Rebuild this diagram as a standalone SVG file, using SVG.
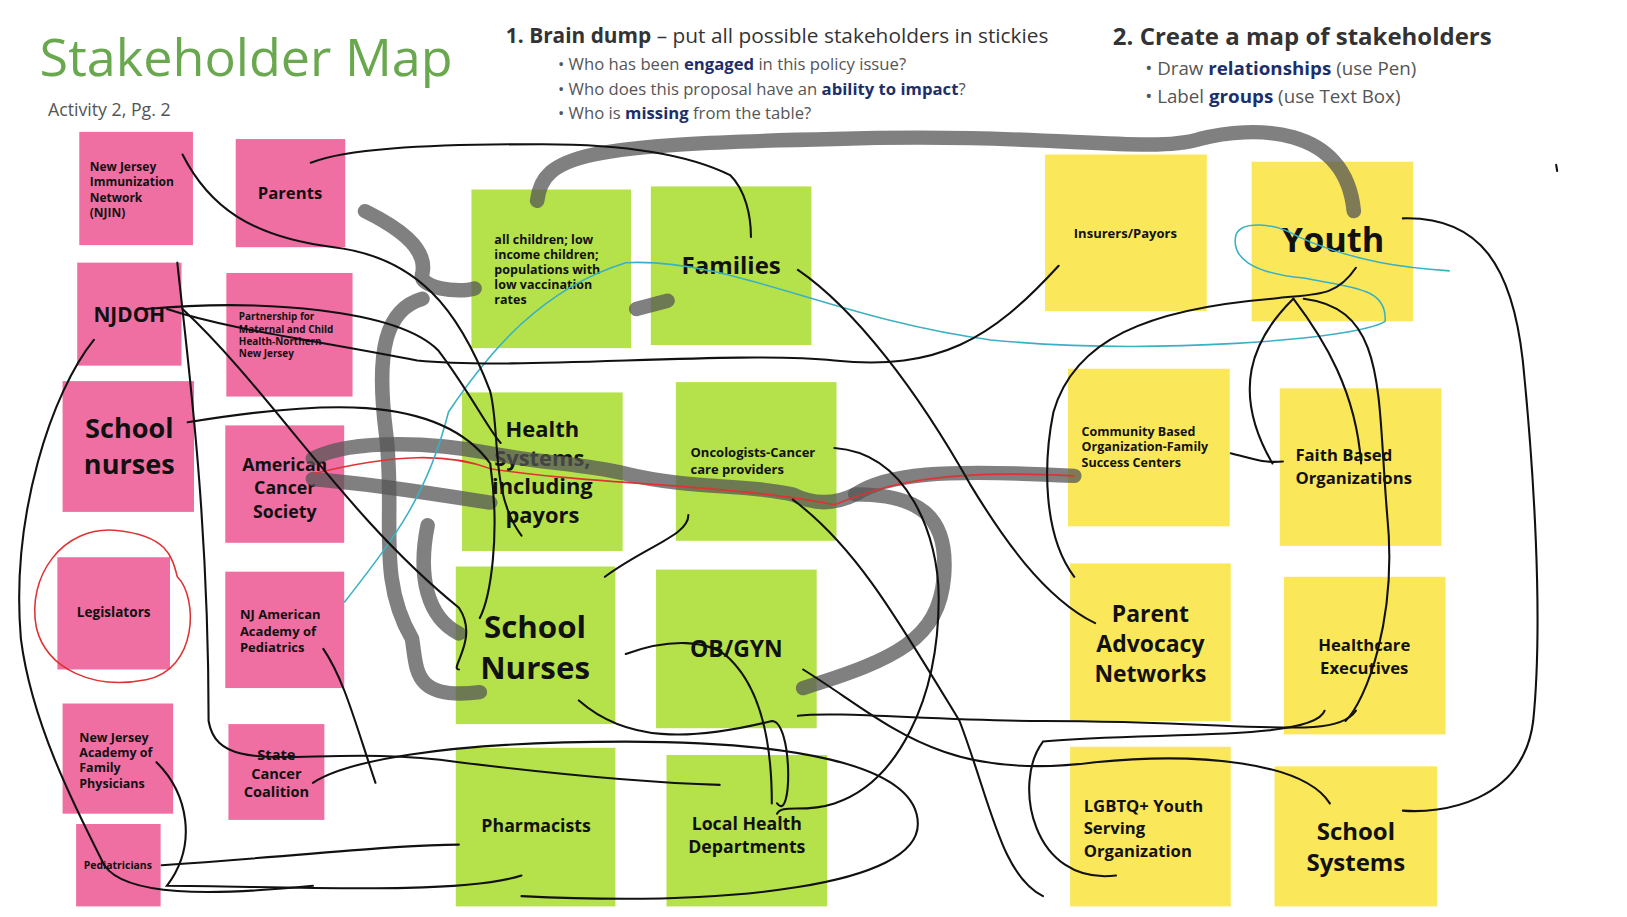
<svg xmlns="http://www.w3.org/2000/svg" width="1627" height="917" viewBox="0 0 1627 917">
<style>
.p{fill:#ef6fa3}.g{fill:#b5e24a}.y{fill:#fbe85a}
text{font-family:"Open Sans","Liberation Sans",sans-serif;font-weight:bold;fill:#111;text-anchor:middle}
.l{text-anchor:start}
.h{font-weight:normal;fill:#555;text-anchor:start}
.c{fill:none;stroke:#111;stroke-width:2;stroke-linecap:round}
.gr{fill:none;stroke:#555;stroke-opacity:.75;stroke-width:14;stroke-linecap:round;stroke-linejoin:round}
</style>
<rect width="1627" height="917" fill="#fff"/>
<g transform="scale(1.043,1.03)">
<g id="title">
<text x="38" y="74" class="l" style="font-weight:normal;fill:#6aa84f;font-size:50px">Stakeholder Map</text>
<text x="46" y="113" class="h" style="font-size:17px">Activity 2, Pg. 2</text>
<text x="485" y="42" class="h" style="font-size:20px;fill:#333"><tspan font-weight="bold">1.  Brain dump</tspan> – put all possible stakeholders in stickies</text>
<text x="535" y="68" class="h" style="font-size:16px">•  Who has been <tspan font-weight="bold" fill="#1c2f6b">engaged</tspan> in this policy issue?</text>
<text x="535" y="92" class="h" style="font-size:16px">•  Who does this proposal have an <tspan font-weight="bold" fill="#1c2f6b">ability to impact</tspan>?</text>
<text x="535" y="116" class="h" style="font-size:16px">•  Who is <tspan font-weight="bold" fill="#1c2f6b">missing</tspan> from the table?</text>
<text x="1067" y="44" class="h" style="font-size:23px;font-weight:bold;fill:#333">2.  Create a map of stakeholders</text>
<text x="1098" y="73" class="h" style="font-size:18px">•   Draw <tspan font-weight="bold" fill="#1c2f6b">relationships</tspan> (use Pen)</text>
<text x="1098" y="100" class="h" style="font-size:18px">•   Label <tspan font-weight="bold" fill="#1c2f6b">groups</tspan> (use Text Box)</text>
</g>
<g id="n1"><rect class="p" x="76" y="128" width="109" height="110"/><text class="l" x="86" y="166" font-size="11.5">New Jersey<tspan x="86" dy="15">Immunization</tspan><tspan x="86" dy="15">Network</tspan><tspan x="86" dy="15">(NJIN)</tspan></text></g>
<g id="n2"><rect class="p" x="226" y="135" width="105" height="105"/><text x="278" y="193" font-size="16">Parents</text></g>
<g id="n3"><rect class="p" x="74" y="255" width="100" height="100"/><text x="124" y="313" font-size="20">NJDOH</text></g>
<g id="n4"><rect class="p" x="217" y="265" width="121" height="120"/><text class="l" x="229" y="311" font-size="9.5">Partnership for<tspan x="229" dy="12">Maternal and Child</tspan><tspan x="229" dy="12">Health-Northern</tspan><tspan x="229" dy="12">New Jersey</tspan></text></g>
<g id="n5"><rect class="p" x="60" y="370" width="126" height="127"/><text x="124" y="425" font-size="26">School<tspan x="124" dy="35">nurses</tspan></text></g>
<g id="n6"><rect class="p" x="216" y="413" width="114" height="114"/><text x="273" y="457" font-size="17">American<tspan x="273" dy="23">Cancer</tspan><tspan x="273" dy="23">Society</tspan></text></g>
<g id="n7"><rect class="p" x="55" y="541" width="108" height="109"/><text x="109" y="599" font-size="13">Legislators</text></g>
<g id="n8"><rect class="p" x="216" y="555" width="114" height="113"/><text class="l" x="230" y="601" font-size="12.5">NJ American<tspan x="230" dy="16">Academy of</tspan><tspan x="230" dy="16">Pediatrics</tspan></text></g>
<g id="n9"><rect class="p" x="60" y="683" width="106" height="107"/><text class="l" x="76" y="720" font-size="12">New Jersey<tspan x="76" dy="15">Academy of</tspan><tspan x="76" dy="15">Family</tspan><tspan x="76" dy="15">Physicians</tspan></text></g>
<g id="n10"><rect class="p" x="219" y="703" width="92" height="93"/><text x="265" y="738" font-size="14">State<tspan x="265" dy="18">Cancer</tspan><tspan x="265" dy="18">Coalition</tspan></text></g>
<g id="n11"><rect class="p" x="73" y="800" width="81" height="80"/><text x="113" y="844" font-size="10">Pediatricians</text></g>
<g id="n12"><rect class="g" x="452" y="184" width="153" height="154"/><text class="l" x="474" y="237" font-size="12">all children; low<tspan x="474" dy="14.5">income children;</tspan><tspan x="474" dy="14.5">populations with</tspan><tspan x="474" dy="14.5">low vaccination</tspan><tspan x="474" dy="14.5">rates</tspan></text></g>
<g id="n13"><rect class="g" x="624" y="181" width="154" height="154"/><text x="701" y="266" font-size="23">Families</text></g>
<g id="n14"><rect class="g" x="443" y="381" width="154" height="154"/><text x="520" y="424" font-size="21">Health<tspan x="520" dy="28">Systems,</tspan><tspan x="520" dy="28">including</tspan><tspan x="520" dy="28">payors</tspan></text></g>
<g id="n15"><rect class="g" x="648" y="371" width="154" height="154"/><text class="l" x="662" y="444" font-size="12.5">Oncologists-Cancer<tspan x="662" dy="16">care providers</tspan></text></g>
<g id="n16"><rect class="g" x="437" y="550" width="153" height="153"/><text x="513" y="619" font-size="30">School<tspan x="513" dy="40">Nurses</tspan></text></g>
<g id="n17"><rect class="g" x="629" y="553" width="154" height="154"/><text x="706" y="638" font-size="22">OB/GYN</text></g>
<g id="n18"><rect class="g" x="437" y="726" width="153" height="154"/><text x="514" y="808" font-size="17">Pharmacists</text></g>
<g id="n19"><rect class="g" x="639" y="733" width="154" height="147"/><text x="716" y="806" font-size="17">Local Health<tspan x="716" dy="22">Departments</tspan></text></g>
<g id="n20"><rect class="y" x="1002" y="150" width="155" height="152"/><text x="1079" y="231" font-size="12.5" font-weight="normal">Insurers/Payors</text></g>
<g id="n21"><rect class="y" x="1200" y="157" width="155" height="155"/><text x="1278" y="245" font-size="33">Youth</text></g>
<g id="n22"><rect class="y" x="1024" y="358" width="155" height="153"/><text class="l" x="1037" y="423" font-size="12">Community Based<tspan x="1037" dy="15">Organization-Family</tspan><tspan x="1037" dy="15">Success Centers</tspan></text></g>
<g id="n23"><rect class="y" x="1227" y="377" width="155" height="153"/><text class="l" x="1242" y="448" font-size="16">Faith Based<tspan x="1242" dy="22">Organizations</tspan></text></g>
<g id="n24"><rect class="y" x="1026" y="547" width="154" height="153"/><text x="1103" y="604" font-size="22">Parent<tspan x="1103" dy="29">Advocacy</tspan><tspan x="1103" dy="29">Networks</tspan></text></g>
<g id="n25"><rect class="y" x="1231" y="560" width="155" height="153"/><text x="1308" y="632" font-size="16">Healthcare<tspan x="1308" dy="22">Executives</tspan></text></g>
<g id="n26"><rect class="y" x="1026" y="725" width="154" height="155"/><text class="l" x="1039" y="788" font-size="16">LGBTQ+ Youth<tspan x="1039" dy="22">Serving</tspan><tspan x="1039" dy="22">Organization</tspan></text></g>
<g id="n27"><rect class="y" x="1222" y="744" width="156" height="136"/><text x="1300" y="816" font-size="23">School<tspan x="1300" dy="30">Systems</tspan></text></g>
<g id="connectors">
<path class="gr" d="M515,195 C520,150 560,140 800,135 C1000,128 1100,150 1150,135 C1200,122 1290,120 1298,205"/>
<path class="gr" d="M350,205 C380,220 410,240 405,265 C400,280 440,285 455,280 M610,300 L640,292"/>
<path class="gr" d="M405,290 C370,300 360,340 370,420 C380,500 360,560 395,620 C400,650 395,680 460,672"/>
<path class="gr" d="M300,445 C340,425 420,430 470,440 C520,450 560,450 600,460 C660,475 720,470 760,480 C780,490 800,490 820,480 C850,460 900,455 1030,462"/>
<path class="gr" d="M300,465 C360,470 420,480 470,488 M820,480 C880,480 910,500 905,560 C900,620 860,640 770,668"/>
<path class="gr" d="M410,510 C400,560 410,600 440,615"/>
<path d="M300,460 C380,440 430,440 470,455 C560,470 700,470 800,490 C850,470 900,455 1030,462" fill="none" stroke="#d33" stroke-width="1.5"/>
<path d="M112,515 C60,510 25,560 35,610 C45,650 90,670 140,660 C190,650 190,580 170,560 C165,540 160,520 112,515" fill="none" stroke="#d33" stroke-width="1.5"/>
<path d="M330,585 C380,520 410,480 430,400 C470,340 520,280 600,255 C700,250 800,310 950,330 C1100,345 1300,330 1328,312 C1330,280 1300,280 1250,270 C1200,265 1180,250 1185,228 C1190,215 1220,215 1245,230 C1300,255 1350,260 1390,263" fill="none" stroke="#3ab0c4" stroke-width="1.5"/>
<path class="c" d="M298,158 C330,145 400,140 520,140 C600,140 660,150 700,170 C715,185 720,210 720,230"/>
<path class="c" d="M175,150 C200,200 240,230 320,240 C400,250 440,300 470,380 C480,420 470,480 500,520"/>
<path class="c" d="M160,300 C220,320 300,330 400,350 C500,360 700,340 800,350 C900,360 950,330 1015,258"/>
<path class="c" d="M140,300 C250,290 380,300 420,340 C450,380 470,420 480,430"/>
<path class="c" d="M180,410 C300,390 420,380 470,450 C480,520 470,580 460,600"/>
<path class="c" d="M175,300 C260,380 330,500 440,590 C460,620 430,650 440,650"/>
<path class="c" d="M90,330 C50,380 10,500 20,620 C30,700 70,780 100,840 C120,870 200,870 300,860"/>
<path class="c" d="M170,255 C180,350 200,500 200,700 C210,760 300,720 440,740 C520,750 620,760 690,762"/>
<path class="c" d="M150,740 C180,770 190,820 160,860 C260,860 440,870 500,850"/>
<path class="c" d="M155,840 C300,830 380,820 440,820"/>
<path class="c" d="M300,760 C330,740 420,720 600,720 C750,720 880,740 880,800 C880,860 700,880 500,870"/>
<path class="c" d="M310,630 C330,660 340,700 360,760"/>
<path class="c" d="M555,680 C600,720 660,720 740,700 C760,700 760,800 745,780"/>
<path class="c" d="M765,262 C820,300 880,380 930,470 C960,520 1000,580 1050,605"/>
<path class="c" d="M1345,212 C1420,210 1450,260 1460,350 C1470,450 1480,600 1470,700 C1460,780 1380,790 1345,787"/>
<path class="c" d="M1300,260 C1280,290 1260,285 1220,290 C1100,300 1030,330 1010,400 C1000,450 1000,520 1030,560"/>
<path class="c" d="M1240,290 C1270,330 1300,380 1305,450"/>
<path class="c" d="M1240,290 C1200,330 1180,380 1220,450"/>
<path class="c" d="M1250,290 C1330,300 1320,380 1330,500 C1340,600 1310,680 1290,700"/>
<path class="c" d="M1180,440 C1200,445 1210,450 1230,448"/>
<path class="c" d="M1300,690 C1280,720 1200,700 1000,700 C900,700 800,690 765,695"/>
<path class="c" d="M1270,690 C1260,720 1100,710 1000,720 C970,760 990,860 1070,850"/>
<path class="c" d="M770,650 C850,700 900,760 1050,740 C1150,730 1250,740 1275,780"/>
<path class="c" d="M580,560 C620,530 660,520 660,500 M600,635 C640,620 680,620 700,640 C720,660 740,700 740,780"/>
<path class="c" d="M760,485 C820,530 860,600 920,700 C950,780 960,850 1000,870"/>
<path class="c" d="M800,435 C870,440 900,520 900,580 C900,680 860,760 800,780 C770,790 750,780 745,790"/>
<path class="c" d="M1492,160 L1493,166"/>
</g>
</g>
</svg>
